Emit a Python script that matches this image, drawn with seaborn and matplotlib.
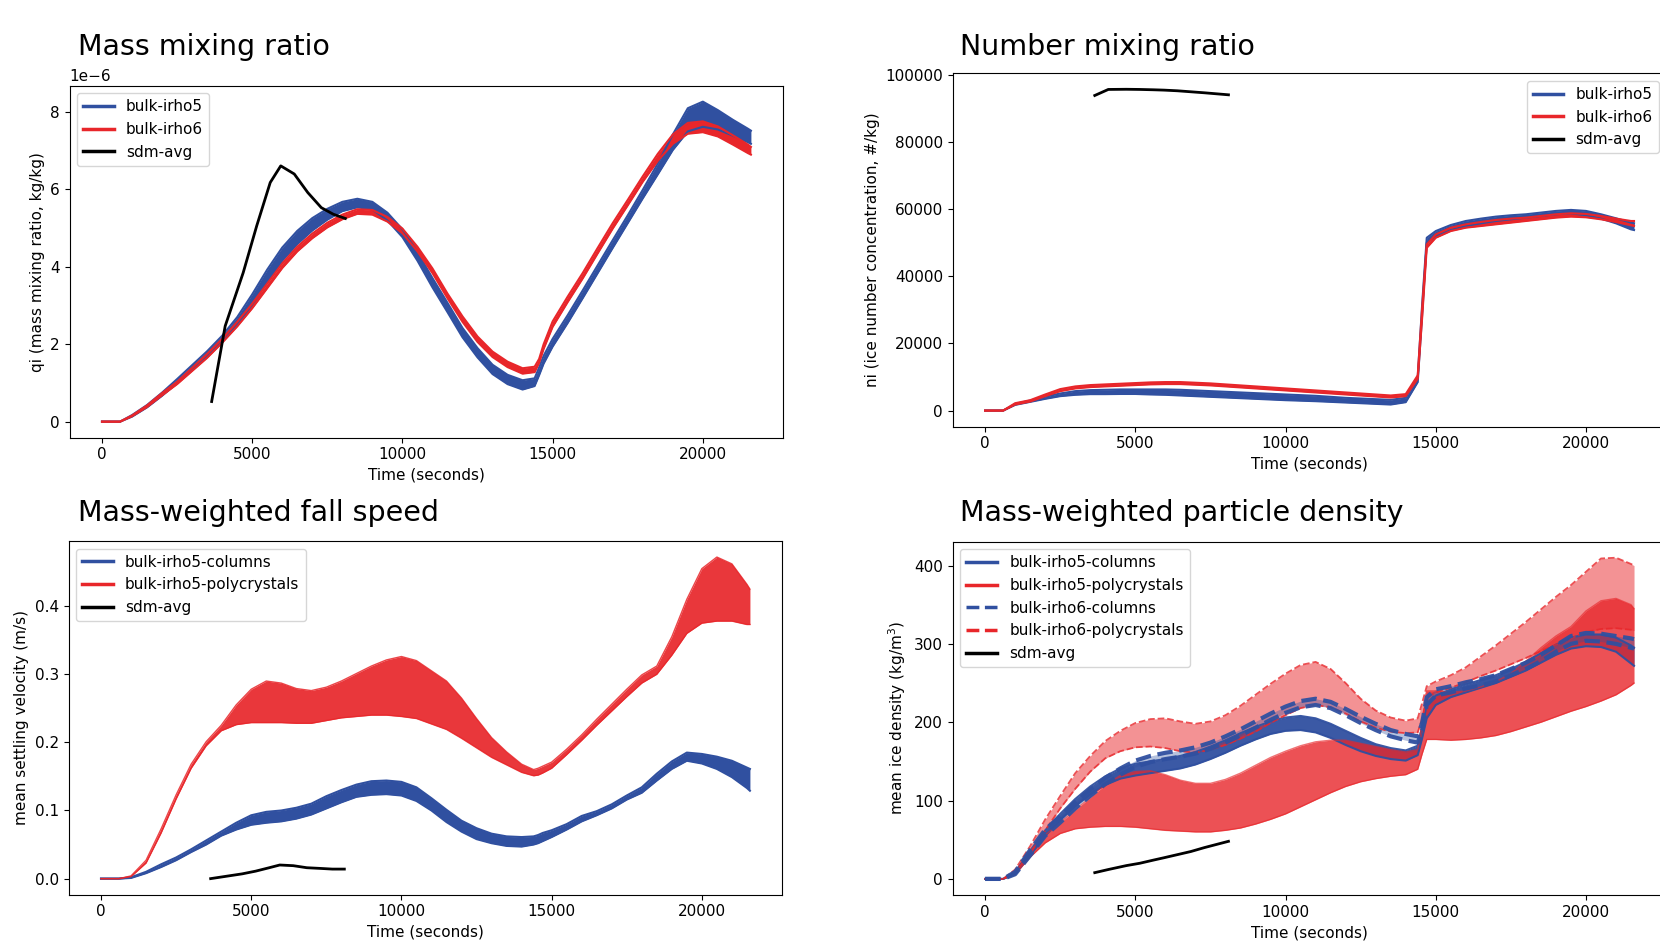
import numpy as np
import matplotlib
matplotlib.use("Agg")
import matplotlib.pyplot as plt
import seaborn as sns
from matplotlib.lines import Line2D

plt.rcParams["font.family"] = ["DejaVu Sans"]
plt.rcParams["font.size"] = 11

BLUE = "#3050a0"
RED = "#e8262a"

# time axis (seconds) shared by the bulk ensembles, and the sdm run
t = [0, 600, 1000, 1500, 2000, 2500, 3000, 3500, 4000, 4500,
     5000, 5500, 6000, 6500, 7000, 7500, 8000, 8500, 9000, 9500,
     10000, 10500, 11000, 11500, 12000, 12500, 13000, 13500, 14000, 14400,
     14550, 14700, 15000, 15500, 16000, 16500, 17000, 17500, 18000, 18500,
     19000, 19500, 20000, 20500, 21000, 21500, 21600]
t_sdm = [3650, 4100, 4700, 5150, 5600, 5950, 6400, 6850, 7300, 7700, 8100]

# mass mixing ratio, 1e-6 kg/kg (low / high edge of each ensemble)
qi_irho5_lo = [0, 0, 0.13, 0.37, 0.67, 1.0, 1.34, 1.68, 2.06, 2.5,
               3.03, 3.61, 4.16, 4.59, 4.94, 5.22, 5.44, 5.54, 5.48, 5.2,
               4.77, 4.16, 3.47, 2.83, 2.18, 1.66, 1.23, 0.97, 0.83, 0.92,
               1.2, 1.5, 1.94, 2.55, 3.19, 3.84, 4.49, 5.13, 5.77, 6.39,
               7.02, 7.5, 7.62, 7.55, 7.39, 7.22, 7.18]
qi_irho5_hi = [0, 0, 0.17, 0.43, 0.75, 1.1, 1.46, 1.82, 2.22, 2.7,
               3.29, 3.93, 4.5, 4.93, 5.26, 5.5, 5.68, 5.76, 5.68, 5.4,
               4.97, 4.38, 3.71, 3.07, 2.42, 1.9, 1.47, 1.21, 1.07, 1.12,
               1.4, 1.7, 2.14, 2.75, 3.39, 4.04, 4.69, 5.33, 5.99, 6.67,
               7.42, 8.1, 8.27, 8.05, 7.8, 7.57, 7.52]
qi_irho6_lo = [0, 0, 0.14, 0.38, 0.68, 0.97, 1.31, 1.65, 2.04, 2.46,
               2.93, 3.45, 3.97, 4.4, 4.74, 5.02, 5.23, 5.37, 5.35, 5.17,
               4.87, 4.4, 3.84, 3.19, 2.58, 2.06, 1.67, 1.41, 1.24, 1.28,
               1.52, 1.88, 2.45, 3.09, 3.7, 4.35, 4.99, 5.59, 6.2, 6.74,
               7.18, 7.44, 7.48, 7.37, 7.16, 6.94, 6.9]
qi_irho6_hi = [0, 0, 0.16, 0.42, 0.74, 1.03, 1.39, 1.75, 2.14, 2.58,
               3.05, 3.57, 4.09, 4.52, 4.86, 5.14, 5.35, 5.49, 5.47, 5.29,
               4.99, 4.52, 3.96, 3.31, 2.72, 2.2, 1.81, 1.55, 1.38, 1.42,
               1.62, 2.0, 2.59, 3.23, 3.84, 4.49, 5.13, 5.73, 6.34, 6.92,
               7.42, 7.72, 7.76, 7.63, 7.4, 7.16, 7.1]
sdm_qi = [0.52, 2.47, 3.85, 5.06, 6.18, 6.61, 6.4, 5.92, 5.53, 5.36, 5.25]

# number mixing ratio, #/kg
ni_irho5_lo = [0, 0, 1700, 2600, 3500, 4300, 4700, 4900, 4900, 4950,
               4950, 4800, 4700, 4500, 4300, 4100, 3900, 3700, 3500, 3300,
               3100, 2950, 2800, 2600, 2400, 2200, 2000, 1800, 2500, 8500,
               29000, 50000, 52000, 53800, 55000, 55800, 56500, 57000, 57500, 58000,
               58500, 58800, 58200, 57200, 55800, 54000, 53800]
ni_irho5_hi = [0, 0, 2000, 3000, 4100, 5100, 5800, 6100, 6200, 6300,
               6300, 6300, 6300, 6200, 6000, 5800, 5600, 5400, 5200, 5000,
               4800, 4600, 4400, 4100, 3800, 3600, 3400, 3200, 3800, 10000,
               32000, 51500, 53500, 55300, 56500, 57200, 57800, 58200, 58500, 59000,
               59500, 59800, 59500, 58500, 57300, 56000, 55800]
ni_irho6_lo = [0, 0, 1800, 2700, 4300, 5800, 6600, 7000, 7200, 7400,
               7600, 7800, 7900, 7900, 7700, 7500, 7200, 6900, 6600, 6300,
               6000, 5700, 5400, 5100, 4800, 4500, 4200, 3900, 4300, 9500,
               28000, 48500, 51500, 53500, 54500, 55000, 55500, 56000, 56500, 57000,
               57500, 57800, 57600, 57000, 56200, 55200, 55000]
ni_irho6_hi = [0, 0, 2200, 3100, 4800, 6400, 7200, 7600, 7800, 8000,
               8200, 8400, 8500, 8500, 8300, 8100, 7800, 7500, 7200, 6900,
               6600, 6300, 6000, 5700, 5400, 5100, 4800, 4500, 4900, 10500,
               31000, 49500, 52500, 54500, 55500, 56200, 56800, 57200, 57500, 58000,
               58500, 58800, 58600, 58000, 57200, 56500, 56500]
sdm_ni = [93900, 95700, 95750, 95700, 95600, 95500, 95300, 95000, 94700, 94400, 94100]

# mean settling velocity, m/s
vt_col_lo = [0, 0, 0.001, 0.008, 0.017, 0.027, 0.039, 0.05, 0.063, 0.072,
             0.079, 0.082, 0.084, 0.088, 0.094, 0.103, 0.112, 0.12, 0.123, 0.124,
             0.122, 0.114, 0.1, 0.083, 0.069, 0.058, 0.052, 0.048, 0.047, 0.05,
             0.052, 0.055, 0.061, 0.072, 0.084, 0.093, 0.103, 0.116, 0.126, 0.144,
             0.161, 0.173, 0.169, 0.161, 0.149, 0.133, 0.129]
vt_col_hi = [0, 0, 0.002, 0.01, 0.021, 0.031, 0.043, 0.056, 0.069, 0.082,
             0.093, 0.098, 0.1, 0.104, 0.11, 0.121, 0.13, 0.138, 0.143, 0.144,
             0.142, 0.134, 0.118, 0.101, 0.085, 0.074, 0.066, 0.062, 0.061, 0.062,
             0.064, 0.067, 0.071, 0.08, 0.092, 0.099, 0.109, 0.122, 0.134, 0.154,
             0.172, 0.185, 0.183, 0.179, 0.173, 0.163, 0.161]
vt_poly_lo = [0, 0, 0.003, 0.023, 0.067, 0.117, 0.162, 0.195, 0.217, 0.226,
              0.229, 0.229, 0.229, 0.228, 0.228, 0.232, 0.236, 0.238, 0.24, 0.24,
              0.238, 0.235, 0.227, 0.219, 0.206, 0.192, 0.178, 0.167, 0.156, 0.151,
              0.152, 0.155, 0.162, 0.182, 0.203, 0.225, 0.246, 0.267, 0.287, 0.3,
              0.328, 0.36, 0.375, 0.378, 0.378, 0.373, 0.373]
vt_poly_hi = [0, 0, 0.004, 0.027, 0.073, 0.123, 0.168, 0.201, 0.225, 0.255,
              0.278, 0.29, 0.287, 0.279, 0.276, 0.281, 0.29, 0.301, 0.312, 0.321,
              0.326, 0.32, 0.305, 0.29, 0.265, 0.235, 0.207, 0.186, 0.168, 0.16,
              0.162, 0.165, 0.171, 0.19, 0.211, 0.234, 0.256, 0.278, 0.299, 0.312,
              0.355, 0.41, 0.455, 0.472, 0.462, 0.432, 0.425]
sdm_vt = [0.0, 0.003, 0.007, 0.011, 0.016, 0.02, 0.019, 0.016, 0.015, 0.014, 0.014]

# mean ice density, kg/m3
rho_col5_lo = [0, 0, 6, 30, 55, 75, 93, 108, 120, 128,
               132, 135, 138, 141, 146, 153, 161, 170, 178, 185,
               189, 190, 187, 180, 171, 163, 157, 153, 151, 158,
               180, 205, 222, 232, 238, 244, 250, 258, 266, 276,
               286, 294, 297, 296, 290, 275, 272]
rho_col5_hi = [0, 0, 9, 36, 62, 83, 102, 118, 131, 141,
               147, 150, 153, 157, 162, 169, 177, 186, 194, 201,
               206, 208, 205, 198, 189, 180, 172, 167, 164, 170,
               195, 222, 234, 242, 248, 254, 260, 268, 277, 288,
               299, 308, 312, 312, 308, 298, 295]
rho_poly5_lo = [0, 0, 6, 28, 46, 58, 64, 66, 67, 67,
                66, 64, 62, 61, 60, 60, 62, 65, 70, 76,
                83, 92, 101, 110, 118, 124, 128, 131, 133, 140,
                160, 178, 178, 177, 178, 180, 183, 188, 194, 200,
                207, 214, 220, 227, 235, 247, 250]
rho_poly5_hi = [0, 0, 8, 36, 56, 72, 88, 104, 120, 132,
                137, 138, 133, 126, 122, 122, 127, 135, 145, 155,
                163, 170, 175, 177, 177, 173, 169, 165, 162, 165,
                200, 240, 240, 238, 240, 245, 252, 262, 278, 295,
                310, 322, 342, 355, 358, 350, 345]
rho_col6_lo = [0, 0, 6, 30, 55, 72, 90, 106, 121, 133,
               143, 149, 153, 156, 160, 166, 174, 183, 193, 203,
               212, 219, 222, 218, 209, 199, 190, 182, 177, 174,
               190, 222, 234, 238, 243, 247, 252, 260, 268, 278,
               290, 300, 304, 303, 300, 295, 294]
rho_col6_hi = [0, 0, 9, 37, 63, 80, 98, 114, 129, 141,
               151, 157, 161, 164, 168, 174, 182, 191, 201, 211,
               220, 227, 230, 226, 217, 207, 198, 190, 185, 182,
               200, 232, 242, 246, 251, 255, 260, 268, 276, 286,
               298, 310, 314, 313, 310, 307, 306]
rho_poly6_lo = [0, 0, 8, 32, 62, 90, 115, 137, 154, 163,
                168, 169, 167, 163, 161, 165, 171, 179, 188, 199,
                209, 218, 222, 219, 211, 201, 193, 188, 186, 187,
                205, 232, 238, 244, 251, 259, 266, 274, 282, 291,
                299, 307, 315, 319, 320, 318, 317]
rho_poly6_hi = [0, 0, 12, 42, 76, 106, 135, 157, 176, 189,
                199, 204, 205, 201, 198, 201, 209, 221, 235, 249,
                262, 273, 277, 268, 250, 230, 215, 206, 202, 205,
                225, 246, 252, 260, 270, 284, 298, 313, 328, 344,
                360, 375, 392, 409, 410, 402, 400]
sdm_rho = [8, 12, 17, 20, 24, 27, 31, 35, 40, 44, 48]

for arr in (qi_irho5_lo, qi_irho5_hi, qi_irho6_lo, qi_irho6_hi, ni_irho5_lo, ni_irho5_hi,
            ni_irho6_lo, ni_irho6_hi, vt_col_lo, vt_col_hi, vt_poly_lo, vt_poly_hi,
            rho_col5_lo, rho_col5_hi, rho_poly5_lo, rho_poly5_hi, rho_col6_lo, rho_col6_hi,
            rho_poly6_lo, rho_poly6_hi):
    assert len(arr) == len(t), len(arr)


def band(ax, lo, hi, color, scale=1.0, ls="-", alpha=1.0, fill_alpha=None, lw=1.5):
    lo = np.asarray(lo) * scale
    hi = np.asarray(hi) * scale
    fa = alpha if fill_alpha is None else fill_alpha
    ax.fill_between(t, lo, hi, color=color, alpha=fa, lw=0)
    for edge in (lo, hi):
        sns.lineplot(x=t, y=edge, color=color, lw=lw, linestyle=ls, alpha=alpha, ax=ax)


def sdm(ax, vals, scale=1.0):
    sns.lineplot(x=t_sdm, y=np.asarray(vals) * scale, color="black", lw=2, ax=ax)


def handles(items):
    return [Line2D([0], [0], color=c, lw=2.5, linestyle=ls, label=l) for l, c, ls in items]


fig = plt.figure(figsize=(16.6, 9.41), dpi=100)
ax1 = fig.add_axes([0.0419, 0.5349, 0.43, 0.3741])
ax2 = fig.add_axes([0.5739, 0.5466, 0.43, 0.3756])
ax3 = fig.add_axes([0.0413, 0.0492, 0.43, 0.3759])
ax4 = fig.add_axes([0.5739, 0.0489, 0.43, 0.3755])

# mass mixing ratio
band(ax1, qi_irho5_lo, qi_irho5_hi, BLUE, scale=1e-6)
band(ax1, qi_irho6_lo, qi_irho6_hi, RED, scale=1e-6)
sdm(ax1, sdm_qi, scale=1e-6)
ax1.set_ylabel("qi (mass mixing ratio, kg/kg)")
ax1.legend(handles=handles([("bulk-irho5", BLUE, "-"), ("bulk-irho6", RED, "-"),
                            ("sdm-avg", "black", "-")]), loc="upper left")

# number mixing ratio
band(ax2, ni_irho5_lo, ni_irho5_hi, BLUE)
band(ax2, ni_irho6_lo, ni_irho6_hi, RED)
sdm(ax2, sdm_ni)
ax2.set_ylabel("ni (ice number concentration, #/kg)")
ax2.legend(handles=handles([("bulk-irho5", BLUE, "-"), ("bulk-irho6", RED, "-"),
                            ("sdm-avg", "black", "-")]), loc="upper right")

# fall speed
band(ax3, vt_col_lo, vt_col_hi, BLUE)
band(ax3, vt_poly_lo, vt_poly_hi, RED, alpha=0.85, fill_alpha=0.92, lw=1.0)
sdm(ax3, sdm_vt)
ax3.set_ylabel("mean settling velocity (m/s)")
ax3.legend(handles=handles([("bulk-irho5-columns", BLUE, "-"), ("bulk-irho5-polycrystals", RED, "-"),
                            ("sdm-avg", "black", "-")]), loc="upper left")

# particle density
band(ax4, rho_col5_lo, rho_col5_hi, BLUE, alpha=0.95)
band(ax4, rho_poly5_lo, rho_poly5_hi, RED, alpha=0.65, fill_alpha=0.8, lw=1.0)
band(ax4, rho_poly6_lo, rho_poly6_hi, RED, ls="--", alpha=0.8, fill_alpha=0.5, lw=1.3)
band(ax4, rho_col6_lo, rho_col6_hi, BLUE, ls="--", alpha=0.95, fill_alpha=0.35, lw=3)
sdm(ax4, sdm_rho)
ax4.set_ylabel("mean ice density (kg/m$^3$)")
ax4.legend(handles=handles([("bulk-irho5-columns", BLUE, "-"), ("bulk-irho5-polycrystals", RED, "-"),
                            ("bulk-irho6-columns", BLUE, "--"), ("bulk-irho6-polycrystals", RED, "--"),
                            ("sdm-avg", "black", "-")]), loc="upper left")

for ax in (ax1, ax2, ax3, ax4):
    ax.set_xlabel("Time (seconds)")

fig.text(78 / 1660, 1 - 55 / 941, "Mass mixing ratio", fontsize=20.5, va="baseline")
fig.text(960 / 1660, 1 - 55 / 941, "Number mixing ratio", fontsize=20.5, va="baseline")
fig.text(78 / 1660, 1 - 521 / 941, "Mass-weighted fall speed", fontsize=20.5, va="baseline")
fig.text(960 / 1660, 1 - 521 / 941, "Mass-weighted particle density", fontsize=20.5, va="baseline")

fig.savefig("out.png", dpi=100)
